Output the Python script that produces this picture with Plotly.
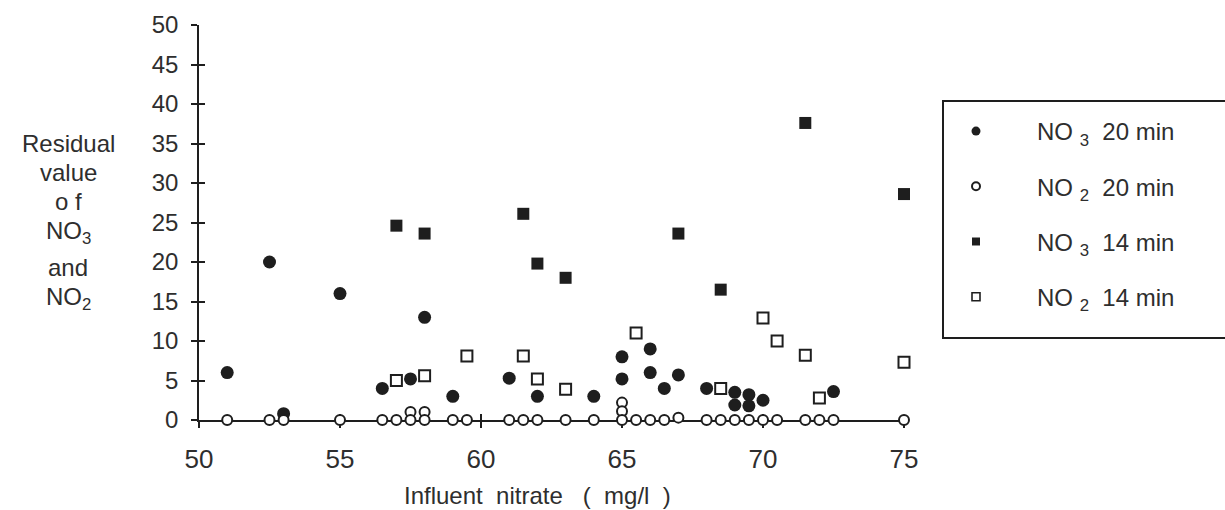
import plotly.graph_objects as go

# ---------------- data ----------------
no3_20_x = [51, 52.5, 53, 55, 56.5, 57.5, 58, 59, 61, 62, 64, 65, 65, 66, 66, 66.5, 67, 68, 69, 69, 69.5, 69.5, 70, 72.5]
no3_20_y = [6, 20, 0.8, 16, 4, 5.2, 13, 3, 5.3, 3, 3, 8, 5.2, 9, 6, 4, 5.7, 4, 3.5, 1.9, 3.2, 1.8, 2.5, 3.6]

no2_20_x = [51, 52.5, 53, 55, 56.5, 57, 57.5, 57.5, 58, 58, 59, 59.5, 61, 61.5, 62, 63, 64,
            65, 65, 65, 65.5, 66, 66.5, 67, 68, 68.5, 69, 69.5, 70, 70.5, 71.5, 72, 72.5, 75]
no2_20_y = [0, 0, 0, 0, 0, 0, 1, 0, 1, 0, 0, 0, 0, 0, 0, 0, 0,
            2.2, 1.1, 0, 0, 0, 0, 0.3, 0, 0, 0, 0, 0, 0, 0, 0, 0, 0]

no3_14_x = [57, 58, 61.5, 62, 63, 67, 68.5, 71.5, 75]
no3_14_y = [24.6, 23.6, 26.1, 19.8, 18, 23.6, 16.5, 37.6, 28.6]

no2_14_x = [57, 58, 59.5, 61.5, 62, 63, 65.5, 68.5, 70, 70.5, 71.5, 72, 75]
no2_14_y = [5, 5.6, 8.1, 8.1, 5.2, 3.9, 11, 4, 12.9, 10, 8.2, 2.8, 7.3]

x_ticks = [50, 55, 60, 65, 70, 75]
y_ticks = [0, 5, 10, 15, 20, 25, 30, 35, 40, 45, 50]

series_names = ["NO <sub>3</sub>  20 min", "NO <sub>2</sub>  20 min",
                "NO <sub>3</sub>  14 min", "NO <sub>2</sub>  14 min"]

# ---------------- layout geometry ----------------
W, H = 1225, 510
L, R, T, B = 199, 321, 25, 90
PW, PH = W - L - R, H - T - B
DARK = "#1e1e1e"
TXT = "#2e2e2e"
FONT = "Liberation Sans, Arial, sans-serif"
NB = "\u00a0"


def px(xp):
    return (xp - L) / PW


def py(yp):
    return (H - B - yp) / PH


fig = go.Figure()

# data traces (filled marks first, open marks drawn over them as in the reference)
fig.add_trace(go.Scatter(x=no3_20_x, y=no3_20_y, mode="markers", showlegend=False, cliponaxis=False,
                         marker=dict(symbol="circle", size=13, color=DARK, line=dict(width=0))))
fig.add_trace(go.Scatter(x=no3_14_x, y=no3_14_y, mode="markers", showlegend=False, cliponaxis=False,
                         marker=dict(symbol="square", size=12, color=DARK, line=dict(width=0))))
fig.add_trace(go.Scatter(x=no2_20_x, y=no2_20_y, mode="markers", showlegend=False, cliponaxis=False,
                         marker=dict(symbol="circle", size=10, color="white", line=dict(color=DARK, width=2))))
fig.add_trace(go.Scatter(x=no2_14_x, y=no2_14_y, mode="markers", showlegend=False, cliponaxis=False,
                         marker=dict(symbol="square", size=11, color="white", line=dict(color=DARK, width=2))))

# legend entries (smaller symbols, as in the reference)
leg_markers = [
    dict(symbol="circle", size=9, color=DARK, line=dict(width=0)),
    dict(symbol="circle", size=8, color="white", line=dict(color=DARK, width=2)),
    dict(symbol="square", size=8, color=DARK, line=dict(width=0)),
    dict(symbol="square", size=8, color="white", line=dict(color=DARK, width=1.6)),
]
for i, (nm, mk) in enumerate(zip(series_names, leg_markers)):
    fig.add_trace(go.Scatter(x=[None], y=[None], mode="markers", name=nm, marker=mk,
                             legendgroup=f"g{i}", showlegend=True))

# invisible trace to activate the overlay axes (inner half of crossing ticks)
fig.add_trace(go.Scatter(x=[None], y=[None], xaxis="x2", yaxis="y2", showlegend=False, hoverinfo="skip"))

axis_common = dict(showgrid=False, zeroline=False, showline=True, linecolor=DARK, linewidth=1.6,
                   ticks="outside", ticklen=6, tickwidth=1.6, tickcolor=DARK, layer="below traces")

fig.update_layout(
    width=W, height=H,
    margin=dict(l=L, r=R, t=T, b=B, autoexpand=False),
    paper_bgcolor="white", plot_bgcolor="white",
    font=dict(family=FONT, color=TXT),
    xaxis=dict(range=[50, 75], tickvals=x_ticks, ticktext=[str(v) for v in x_ticks],
               ticklabelstandoff=9, tickfont=dict(family=FONT, size=26, color=TXT), **axis_common),
    yaxis=dict(range=[0, 50], tickvals=y_ticks, ticktext=[str(v) for v in y_ticks],
               ticklabelstandoff=8, tickfont=dict(family=FONT, size=24, color=TXT), **axis_common),
    xaxis2=dict(overlaying="x", anchor="y2", range=[50, 75], tickvals=x_ticks, showticklabels=False,
                showgrid=False, zeroline=False, showline=False, ticks="inside", ticklen=6, tickwidth=1.6,
                tickcolor=DARK, layer="below traces"),
    yaxis2=dict(overlaying="y", anchor="x2", range=[0, 50], tickvals=y_ticks, showticklabels=False,
                showgrid=False, zeroline=False, showline=False, ticks="inside", ticklen=6, tickwidth=1.6,
                tickcolor=DARK, layer="below traces"),
    legend=dict(x=px(915), y=py(109), xanchor="left", yanchor="top", bgcolor="rgba(0,0,0,0)",
                borderwidth=0, font=dict(family=FONT, size=24, color=TXT),
                itemwidth=112, tracegroupgap=21, traceorder="grouped"),
    shapes=[dict(type="rect", xref="paper", yref="paper", x0=px(943), x1=px(1260),
                 y0=py(338), y1=py(101), line=dict(color=DARK, width=2), fillcolor="rgba(0,0,0,0)")],
)

# axis titles as text annotations
ytitle_lines = [("Residual", 143), ("value", 172), ("o f", 202), ("NO<sub>3</sub>", 233),
                ("and", 267), ("NO<sub>2</sub>", 298)]
for txt, yp in ytitle_lines:
    fig.add_annotation(text=txt, xref="paper", yref="paper", x=px(68), y=py(yp),
                       xanchor="center", yanchor="middle", showarrow=False,
                       font=dict(family=FONT, size=24, color=TXT))

fig.add_annotation(text=f"Influent{NB*2}nitrate{NB*3}({NB*2}mg/l{NB*2})",
                   xref="paper", yref="paper", x=px(537), y=py(495), xanchor="center", yanchor="middle",
                   showarrow=False, font=dict(family=FONT, size=24, color=TXT))

fig.write_html("out.html")
